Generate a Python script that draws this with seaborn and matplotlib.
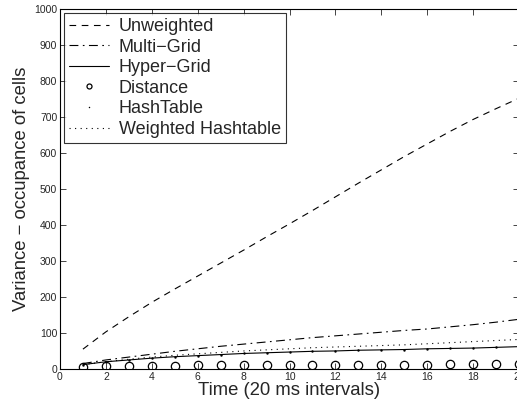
import numpy as np
import pandas as pd
import matplotlib
matplotlib.use("Agg")
import matplotlib.pyplot as plt
import seaborn as sns

# data
time = list(range(1, 21))
unweighted = [55, 103, 145, 185, 222, 258, 294, 330, 367, 403,
              440, 478, 516, 553, 590, 625, 660, 693, 723, 752]
multi_grid = [15, 25, 33, 41, 49, 56, 63, 69, 75, 81,
              87, 92, 97, 102, 107, 111, 117, 123, 130, 138]
hyper_grid = [12, 20, 25, 30, 34, 37, 40, 43, 45, 47,
              49, 50, 52, 53, 54, 56, 57, 58, 60, 62]
distance = [5, 7, 8, 9, 9, 10, 10, 10, 11, 11,
            11, 11, 12, 12, 12, 12, 13, 13, 13, 13]
hashtable = [12, 20, 25, 30, 34, 37, 40, 43, 45, 47,
             49, 50, 52, 53, 54, 56, 57, 58, 60, 62]
weighted_hash = [12, 20, 27, 33, 38, 42, 46, 50, 53, 56,
                 59, 61, 63, 65, 67, 70, 73, 76, 79, 82]

sns.set_theme(style="ticks")
plt.rcParams['font.family'] = ['Liberation Sans', 'DejaVu Sans']

fig = plt.figure(figsize=(5.17, 4.05), dpi=100)
ax = fig.add_axes([0.116, 0.089, 0.888, 0.889])

lw = 0.8
sns.lineplot(x=time, y=unweighted, ax=ax, color="black", lw=lw, label="Unweighted")
ax.lines[-1].set_dashes((6, 5))
sns.lineplot(x=time, y=multi_grid, ax=ax, color="black", lw=lw, label="Multi\u2212Grid")
ax.lines[-1].set_dashes((8, 4, 1.5, 4))
sns.lineplot(x=time, y=hyper_grid, ax=ax, color="black", lw=lw, label="Hyper\u2212Grid")
sns.lineplot(x=time, y=distance, ax=ax, color="black", lw=0, marker="o",
             markersize=6, markerfacecolor="none", markeredgecolor="black",
             markeredgewidth=0.9, label="Distance")
sns.lineplot(x=time, y=hashtable, ax=ax, color="black", lw=0, marker=".",
             markersize=3.5, markeredgewidth=0, label="HashTable")
sns.lineplot(x=time, y=weighted_hash, ax=ax, color="black", lw=lw,
             label="Weighted Hashtable")
ax.lines[-1].set_dashes((1, 4))

ax.set_xlim(0, 20)
ax.set_ylim(0, 1000)
ax.set_xticks(range(0, 21, 2))
ax.set_yticks(range(0, 1001, 100))
ax.tick_params(direction="in", top=True, right=True, labelsize=7.5,
               length=4, width=0.6, pad=2)
for s in ax.spines.values():
    s.set_linewidth(0.8)
    s.set_color("black")

ax.set_xlabel("Time (20 ms intervals)", fontsize=13.3, labelpad=0)
ax.set_ylabel("Variance \u2212 occupance of cells", fontsize=13.3, labelpad=3)

leg = ax.legend(loc="upper left", fontsize=13, frameon=True, fancybox=False,
                handlelength=2.2, handletextpad=0.55, borderaxespad=0.2,
                labelspacing=0.2, borderpad=0.3, markerscale=0.6)
leg.get_frame().set_edgecolor("black")
leg.get_frame().set_linewidth(0.8)

fig.savefig("out.png", dpi=100)
